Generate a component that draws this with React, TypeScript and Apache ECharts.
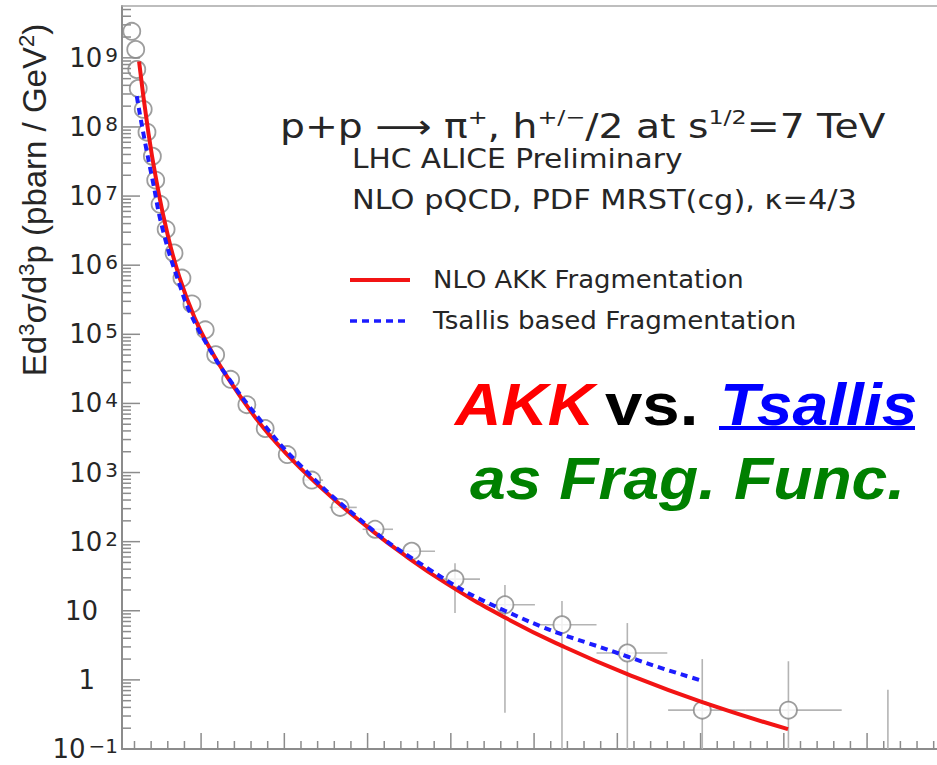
import { useEffect, useRef } from "react";
import * as echarts from "echarts";

// Measured spectrum: pT (GeV/c) and invariant yield Ed3σ/d3p (pbarn / GeV²)
const ptPoints = [
  0.335, 0.43, 0.455, 0.49, 0.61, 0.7, 0.83, 0.91, 1.015, 1.16, 1.35, 1.54, 1.78, 2.1, 2.35,
  2.71, 3.1, 3.54, 4.07, 4.66, 5.34, 6.18, 7.06, 8.1, 9.3, 10.67, 12.24, 14.04, 16.11, 18.5,
];
const yieldPoints = [
  2.42e9, 1.32e9, 6.78e8, 3.6e8, 1.8e8, 8.4e7, 3.77e7, 1.7e7, 7.6e6, 3.3e6, 1.5e6, 6.5e5, 2.75e5,
  1.16e5, 5.06e4, 2.23e4, 9.6e3, 4.33e3, 1.82e3, 777, 313, 151, 72.7, 28.7, 12.2, 6.28, 2.45,
  0.365, 0.365, 0.05,
];
// bin edges (horizontal bars) and error bounds (vertical bars); null = not drawn
const binLow = [
  null, null, null, null, null, null, null, null, null, null, null, null, null, null, null,
  null, null, null, null, 4.46, 5.09, 5.88, 6.71, 7.7, 8.86, 10.07, 11.5, 13.22, 15.07, null,
];
const binHigh = [
  null, null, null, null, null, null, null, null, null, null, null, null, null, null, null,
  null, null, null, null, 4.93, 5.74, 6.61, 7.62, 8.7, 10.02, 11.5, 13.2, 15.07, 17.39, null,
];
const errLow = [
  null, null, null, null, null, null, null, null, null, null, null, null, null, null, null,
  null, null, null, null, null, null, null, null, 9.27, 0.334, 0.01, 0.01, 0.01, 0.01, 0.01,
];
const errHigh = [
  null, null, null, null, null, null, null, null, null, null, null, null, null, null, null,
  null, null, null, null, null, null, null, null, 48.8, 23.5, 13.8, 6.64, 2.0, 1.86, 0.72,
];

// NLO pQCD with AKK fragmentation functions
const akkPt = [
  0.51, 0.734, 0.936, 1.176, 1.479, 1.856, 2.216, 2.576, 3.256, 3.737, 4.378, 5.178, 5.98, 6.78,
  7.9, 9.3, 10.67, 12.24, 14.04, 16.1,
];
const akkYield = [
  8.85e8, 8.26e7, 1.55e7, 3.12e6, 6.71e5, 1.67e5, 6.19e4, 2.7e4, 6.82e3, 3.01e3, 1.17e3, 417, 166,
  71.0, 24.7, 7.98, 3.1, 1.21, 0.476, 0.194,
];

// NLO pQCD with Tsallis based fragmentation functions
const tsallisPt = [
  0.455, 0.614, 0.83, 1.094, 1.496, 1.777, 2.216, 2.576, 3.42, 4.38, 5.74, 7.1, 9.3, 12.24, 14.03,
];
const tsallisYield = [
  2.79e8, 8.04e7, 1.76e7, 3.02e6, 4.97e5, 1.82e5, 5.98e4, 2.72e4, 5.75e3, 1.28e3, 229, 55.8, 10.0,
  2.18, 0.975,
];

const X_MIN = 0.1;
const X_MAX = 20;
const Y_MIN = 0.1;
const Y_MAX = 5.6234e9;

// axis decorations
const yDecades = [-1, 0, 1, 2, 3, 4, 5, 6, 7, 8, 9];
const ySubSteps = [2, 3, 4, 5, 6, 7, 8, 9];
const xMajorStep = 2;
const xMinorStep = 0.4;

const FRAME = "#8c8c8c";
const TEXT = "#262626";

function buildTicks(): number[][] {
  const ticks: number[][] = [];
  yDecades.forEach((e) => {
    ticks.push([X_MIN, Math.pow(10, e), 0]);
    ySubSteps.forEach((k) => {
      const v = k * Math.pow(10, e);
      if (v < Y_MAX) ticks.push([X_MIN, v, 1]);
    });
  });
  const perMajor = Math.round(xMajorStep / xMinorStep);
  for (let k = 1; k * xMinorStep <= X_MAX + 1e-9; k++) {
    const v = Math.round(k * xMinorStep * 100) / 100;
    ticks.push([v, Y_MIN, k % perMajor === 0 ? 2 : 3]);
  }
  return ticks;
}

export default function App() {
  const ref = useRef<HTMLDivElement>(null);

  useEffect(() => {
    if (!ref.current) return;
    const chart = echarts.init(ref.current, undefined, { renderer: "svg" });

    const points = ptPoints.map((x, i) => [x, yieldPoints[i]]);
    const labelFont = "DejaVu Sans";
    const wideFont = "DejaVu Sans";
    const bigFont = "Liberation Sans";

    const option: any = {
      animation: false,
      backgroundColor: "#ffffff",
      grid: {
        left: 122,
        top: 6,
        width: (X_MAX - X_MIN) * 41.625,
        height: 743,
        outerBoundsMode: "none",
      },
      xAxis: [
        {
          type: "value",
          min: X_MIN,
          max: X_MAX,
          axisLine: { show: true, lineStyle: { color: FRAME, width: 2 } },
          axisTick: { show: false },
          axisLabel: { show: false },
          splitLine: { show: false },
        },
        {
          type: "value",
          position: "top",
          min: X_MIN,
          max: X_MAX,
          axisLine: { show: true, lineStyle: { color: "#a8a8a8", width: 1.5 } },
          axisTick: { show: false },
          axisLabel: { show: false },
          splitLine: { show: false },
        },
      ],
      yAxis: {
        type: "log",
        logBase: 10,
        min: Y_MIN,
        max: Y_MAX,
        interval: 1,
        axisLine: { show: true, lineStyle: { color: FRAME, width: 2 } },
        axisTick: { show: false },
        splitLine: { show: false },
        axisLabel: {
          margin: 4,
          formatter: (v: number) => {
            const e = Math.log10(v);
            const r = Math.round(e);
            if (Math.abs(e - r) > 1e-6) return "";
            if (r === 0) return "{one|1}";
            if (r === 1) return "{ten|10}";
            return `{b|10}{s|${r < 0 ? "\u2212" + -r : r}}`;
          },
          rich: {
            b: { fontSize: 26, fontFamily: labelFont, color: TEXT, lineHeight: 26, padding: [8, 0, 8, 0] },
            s: { fontSize: 20, fontFamily: labelFont, color: TEXT, lineHeight: 20, verticalAlign: "top", padding: [0, 0, 0, 3] },
            ten: { fontSize: 26, fontFamily: labelFont, color: TEXT, lineHeight: 26, padding: [8, 20, 8, 0] },
            one: { fontSize: 26, fontFamily: labelFont, color: TEXT, lineHeight: 26, padding: [8, 23, 8, 0] },
          },
        },
      },
      series: [
        {
          type: "custom",
          name: "errors",
          clip: true,
          silent: true,
          z: 1,
          data: ptPoints.map((x, i) => [x, yieldPoints[i]]),
          encode: { x: 0, y: 1 },
          renderItem: (params: any, api: any) => {
            const i = params.dataIndex;
            const y = yieldPoints[i];
            const x = ptPoints[i];
            const children: any[] = [];
            const style = { stroke: "#b4b4b4", lineWidth: 1.6 };
            if (binLow[i] != null && binHigh[i] != null) {
              const a = api.coord([binLow[i], y]);
              const b = api.coord([binHigh[i], y]);
              children.push({ type: "line", shape: { x1: a[0], y1: a[1], x2: b[0], y2: b[1] }, style });
            }
            if (errLow[i] != null && errHigh[i] != null) {
              const a = api.coord([x, errLow[i]]);
              const b = api.coord([x, errHigh[i]]);
              children.push({ type: "line", shape: { x1: a[0], y1: a[1], x2: b[0], y2: b[1] }, style });
            }
            return { type: "group", children };
          },
        },
        {
          type: "scatter",
          name: "LHC ALICE Preliminary",
          data: points,
          symbol: "circle",
          symbolSize: 17,
          clip: true,
          z: 2,
          itemStyle: { color: "#ffffff", borderColor: "#858585", borderWidth: 1.8 },
        },
        {
          type: "line",
          name: "NLO AKK Fragmentation",
          data: akkPt.map((x, i) => [x, akkYield[i]]),
          showSymbol: false,
          smooth: 0.5,
          z: 3,
          lineStyle: { color: "#f21414", width: 4 },
        },
        {
          type: "line",
          name: "Tsallis based Fragmentation",
          data: tsallisPt.map((x, i) => [x, tsallisYield[i]]),
          showSymbol: false,
          smooth: 0.5,
          z: 4,
          lineStyle: { color: "#1c1cff", width: 4, type: [7, 5] },
        },
        {
          type: "custom",
          name: "ticks",
          silent: true,
          z: 5,
          data: buildTicks(),
          encode: { x: 0, y: 1 },
          renderItem: (params: any, api: any) => {
            const cs = params.coordSys;
            const kind = api.value(2);
            const p = api.coord([api.value(0), api.value(1)]);
            const style = { stroke: FRAME, lineWidth: 1.5 };
            if (kind < 2) {
              const len = kind === 0 ? 18 : 9;
              return { type: "line", shape: { x1: cs.x, y1: p[1], x2: cs.x + len, y2: p[1] }, style };
            }
            const len = kind === 2 ? 16 : 8;
            const yb = cs.y + cs.height;
            return { type: "line", shape: { x1: p[0], y1: yb, x2: p[0], y2: yb - len }, style };
          },
        },
      ],
      graphic: [
        {
          type: "text",
          x: 33,
          y: 200,
          rotation: Math.PI / 2,
          style: {
            text: "{n|Ed}{s|3}{n|\u03c3/d}{s|3}{n|p (pbarn / GeV}{s|2}{n|)}",
            align: "center",
            verticalAlign: "middle",
            rich: {
              n: { fontSize: 33, fontFamily: "Liberation Sans", fill: TEXT, lineHeight: 36, padding: [6, 0, 0, 0], verticalAlign: "bottom" },
              s: { fontSize: 22, fontFamily: "Liberation Sans", fill: TEXT, lineHeight: 22, verticalAlign: "top" },
            },
          },
        },
        {
          type: "text",
          x: 280,
          y: 125.5,
          scaleX: 1.19,
          style: {
            text: "{n|p+p \u27f6 \u03c0}{s|+}{n|, h}{s|+/\u2212}{n|/2 at s}{s|1/2}{n|=7 TeV}",
            verticalAlign: "middle",
            rich: {
              n: { fontSize: 33, fontFamily: wideFont, fill: TEXT, lineHeight: 36, padding: [6, 0, 0, 0], verticalAlign: "bottom" },
              s: { fontSize: 20, fontFamily: wideFont, fill: TEXT, lineHeight: 20, verticalAlign: "top" },
            },
          },
        },
        {
          type: "text",
          x: 352,
          y: 159,
          scaleX: 1.14,
          style: { text: "LHC ALICE Preliminary", fontSize: 26, fontFamily: wideFont, fill: TEXT, verticalAlign: "middle" },
        },
        {
          type: "text",
          x: 352,
          y: 200,
          scaleX: 1.17,
          style: { text: "NLO pQCD, PDF MRST(cg), \u03ba=4/3", fontSize: 26, fontFamily: wideFont, fill: TEXT, verticalAlign: "middle" },
        },
        { type: "line", shape: { x1: 350, y1: 280, x2: 410, y2: 280 }, style: { stroke: "#f21414", lineWidth: 4 } },
        {
          type: "line",
          shape: { x1: 350, y1: 321, x2: 410, y2: 321 },
          style: { stroke: "#1c1cff", lineWidth: 3.5, lineDash: [7, 5] },
        },
        {
          type: "text",
          x: 433,
          y: 280,
          scaleX: 1.08,
          style: { text: "NLO AKK Fragmentation", fontSize: 24, fontFamily: wideFont, fill: TEXT, verticalAlign: "middle" },
        },
        {
          type: "text",
          x: 433,
          y: 321,
          scaleX: 1.09,
          style: { text: "Tsallis based Fragmentation", fontSize: 24, fontFamily: wideFont, fill: TEXT, verticalAlign: "middle" },
        },
        {
          type: "text",
          x: 455,
          y: 404,
          scaleX: 1.07,
          style: { text: "AKK", fontSize: 60, fontFamily: bigFont, fontWeight: "bold", fontStyle: "italic", fill: "#ff0000", verticalAlign: "middle" },
        },
        {
          type: "text",
          x: 605,
          y: 404,
          scaleX: 1.12,
          style: { text: "vs.", fontSize: 60, fontFamily: bigFont, fontWeight: "bold", fill: "#000000", verticalAlign: "middle" },
        },
        {
          type: "text",
          x: 720,
          y: 404,
          scaleX: 1.07,
          style: { text: "Tsallis", fontSize: 60, fontFamily: bigFont, fontWeight: "bold", fontStyle: "italic", fill: "#0000ff", verticalAlign: "middle" },
        },
        { type: "rect", shape: { x: 719, y: 426, width: 196, height: 4 }, style: { fill: "#0000ff" } },
        {
          type: "text",
          x: 470,
          y: 478,
          scaleX: 1.07,
          style: {
            text: "as Frag. Func.",
            fontSize: 60,
            fontFamily: bigFont,
            fontWeight: "bold",
            fontStyle: "italic",
            fill: "#008000",
            verticalAlign: "middle",
          },
        },
      ],
    };

    chart.setOption(option);
    return () => chart.dispose();
  }, []);

  return (
    <div
      ref={ref}
      style={{ position: "fixed", left: 0, top: 0, width: 937, height: 765, background: "#fff" }}
    />
  );
}
